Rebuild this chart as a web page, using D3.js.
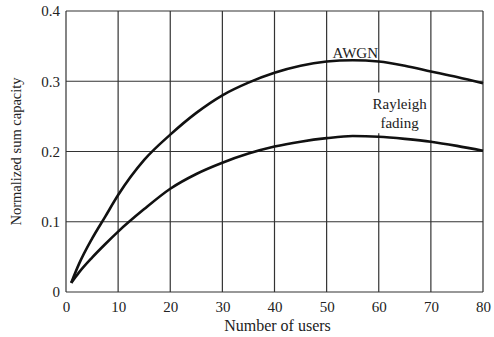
<!DOCTYPE html>
<html>
<head>
<meta charset="utf-8">
<script src="https://cdn.jsdelivr.net/npm/d3@7"></script>
<style>
  body { margin: 0; background: #fff; }
  text { font-family: "Liberation Serif", "Times New Roman", serif; fill: #222; }
</style>
</head>
<body>
<div id="chart"></div>
<script>
// number of users
const users = [1, 2.5, 5, 7.5, 10, 15, 20, 25, 30, 35, 40, 45, 50, 55, 60, 65, 70, 75, 80];
// normalized sum capacity
const awgn = [0.013, 0.04, 0.076, 0.107, 0.138, 0.188, 0.224, 0.255, 0.280, 0.298, 0.312, 0.322, 0.328, 0.330, 0.328, 0.322, 0.314, 0.306, 0.297];
const rayleigh = [0.013, 0.028, 0.049, 0.068, 0.086, 0.118, 0.147, 0.168, 0.184, 0.197, 0.207, 0.214, 0.219, 0.222, 0.221, 0.218, 0.214, 0.208, 0.201];
const xTicks = [0, 10, 20, 30, 40, 50, 60, 70, 80];
const yTicks = [0, 0.1, 0.2, 0.3, 0.4];

const width = 494, height = 337;
const margin = { top: 11, right: 11, bottom: 45, left: 66 };
const w = width - margin.left - margin.right;
const h = height - margin.top - margin.bottom;

const svg = d3.select('#chart').append('svg')
  .attr('width', width).attr('height', height);
const g = svg.append('g')
  .attr('transform', `translate(${margin.left},${margin.top})`);

const x = d3.scaleLinear().domain([0, 80]).range([0, w]);
const y = d3.scaleLinear().domain([0, 0.4]).range([h, 0]);

// grid
g.selectAll('.vgrid').data(xTicks).enter().append('line')
  .attr('x1', d => x(d)).attr('x2', d => x(d))
  .attr('y1', 0).attr('y2', h)
  .attr('stroke', '#333').attr('stroke-width', 1.2);
g.selectAll('.hgrid').data(yTicks).enter().append('line')
  .attr('y1', d => y(d)).attr('y2', d => y(d))
  .attr('x1', 0).attr('x2', w)
  .attr('stroke', '#333').attr('stroke-width', 1.2);

// axes, labels only
const xAxis = g.append('g').attr('transform', `translate(0,${h})`)
  .call(d3.axisBottom(x).tickValues(xTicks).tickSize(0).tickPadding(9).tickFormat(d3.format('d')));
const yAxis = g.append('g')
  .call(d3.axisLeft(y).tickValues(yTicks).tickSize(0).tickPadding(6).tickFormat(d => d === 0 ? '0' : d3.format('.1f')(d)));
[xAxis, yAxis].forEach(a => {
  a.select('.domain').remove();
  a.selectAll('text').style('font-family', '"Liberation Serif", serif').style('font-size', '15px').attr('fill', '#333');
});

// white box under "Rayleigh fading"
g.append('rect')
  .attr('x', x(64) - 29).attr('y', y(0.284))
  .attr('width', 58).attr('height', y(0.226) - y(0.284)).attr('fill', '#fff');

const line = d3.line()
  .x((d, i) => x(users[i]))
  .y(d => y(d))
  .curve(d3.curveMonotoneX);

[awgn, rayleigh].forEach(s => {
  g.append('path').datum(s)
    .attr('d', line)
    .attr('fill', 'none')
    .attr('stroke', '#111')
    .attr('stroke-width', 2.6);
});

g.append('text').attr('x', x(55.5)).attr('y', y(0.335) + 1)
  .attr('text-anchor', 'middle').style('font-size', '15px').text('AWGN');
g.append('text').attr('x', x(64)).attr('y', y(0.261))
  .attr('text-anchor', 'middle').style('font-size', '15px').text('Rayleigh');
g.append('text').attr('x', x(64)).attr('y', y(0.234))
  .attr('text-anchor', 'middle').style('font-size', '15px').text('fading');

svg.append('text')
  .attr('x', margin.left + w / 2 + 3).attr('y', 331)
  .attr('text-anchor', 'middle').style('font-size', '16px').text('Number of users');
svg.append('text')
  .attr('transform', `translate(21,${margin.top + h / 2}) rotate(-90)`)
  .attr('text-anchor', 'middle').style('font-size', '14.5px').text('Normalized sum capacity');
</script>
</body>
</html>
